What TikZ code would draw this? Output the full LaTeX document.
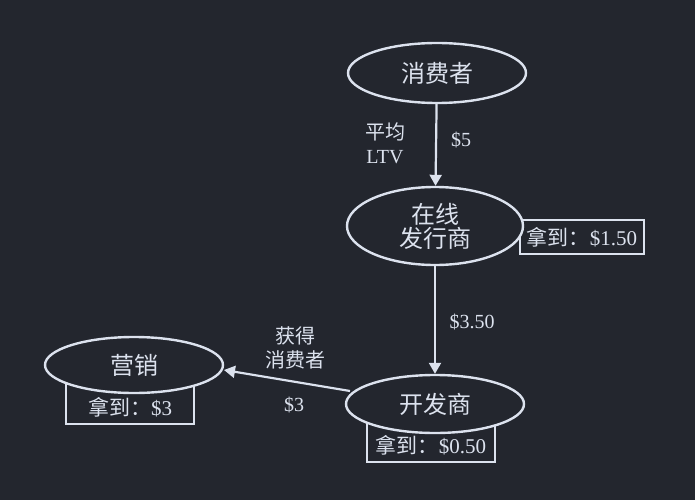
\documentclass[tikz,border=0pt]{standalone}
\usepackage{fontspec}
\setmainfont{Liberation Serif}
\newfontfamily\cjk{Noto Sans CJK SC}
\usetikzlibrary{shapes.geometric,arrows.meta}
\definecolor{bg}{HTML}{23262E}
\definecolor{fg}{HTML}{DCE2EE}
\tikzset{
  every node/.style={text=fg},
  ell/.style={ellipse, draw=fg, line width=2.4pt, fill=bg, minimum width=#1, align=center, inner sep=0pt, font=\cjk\fontsize{24}{27}\selectfont},
  gotbox/.style={draw=fg, line width=2pt, fill=bg, inner sep=0pt},
  gottext/.style={inner sep=0pt, font=\fontsize{21}{24}\selectfont},
  lbl/.style={align=center, font=\fontsize{20}{24}\selectfont},
  flow/.style={draw=fg, line width=2.2pt, -{Triangle[length=11pt,width=12pt]}},
}
\begin{document}
\begin{tikzpicture}[x=1pt,y=-1pt]
\fill[bg] (0,0) rectangle (695,500);
\useasboundingbox (0,0) rectangle (695,500);
% boxes behind ellipses
\node[gotbox, minimum width=124pt, minimum height=34pt] (g1) at (582,237) {};
\node[gotbox, minimum width=128pt, minimum height=46pt, anchor=south] (g2) at (431,463) {};
\node[gotbox, minimum width=128pt, minimum height=46pt, anchor=south] (g3) at (130,425) {};
% ellipses
\node[ell=178pt, minimum height=60pt] (c) at (437,73) {消费者};
\node[ell=176pt, minimum height=78pt] (p) at (435,226) {在线\\[-3pt]发行商};
\node[ell=178pt, minimum height=58pt] (d) at (435,404) {开发商};
\node[ell=178pt, minimum height=56pt] (m) at (134,365) {营销};
% texts in boxes
\node[gottext] (t1) at (582,237) {{\cjk 拿到：}\$1.50};
\node[gottext] (t2) at (431,445) {{\cjk 拿到：}\$0.50};
\node[gottext] (t3) at (130,407) {{\cjk 拿到：}\$3};
% arrows
\coordinate (dw) at (350,391);
\coordinate (me) at (224,370);
\draw[flow] (c) -- (p);
\draw[flow] (p) -- (d);
\draw[flow] (dw) -- (me);
% labels
\node[lbl] at (385,143) {{\cjk 平均}\\LTV};
\node[lbl] at (461,140) {\$5};
\node[lbl] at (472,322) {\$3.50};
\node[lbl, font=\cjk\fontsize{20}{24}\selectfont] at (295,348) {获得\\消费者};
\node[lbl] at (294,405) {\$3};
\end{tikzpicture}
\end{document}
